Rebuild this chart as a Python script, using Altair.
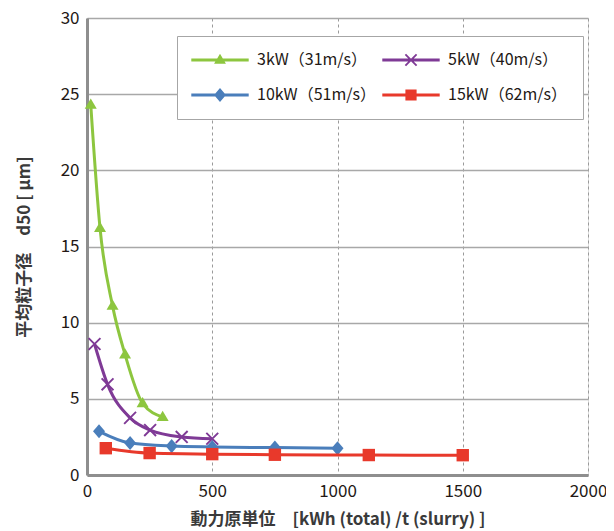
import altair as alt
import pandas as pd

# ---- data ----
series_names = ["3kW", "5kW", "10kW", "15kW"]
legend_labels = ["\u20073kW（31m/s）", "\u20075kW（40m/s）", "10kW（51m/s）", "15kW（62m/s）"]
series_colors = ["#8DC63F", "#7F3A96", "#4A7EBB", "#E8392B"]

x_3kw = [15, 52, 102, 152, 222, 302]
y_3kw = [24.3, 16.2, 11.1, 7.9, 4.7, 3.8]
x_5kw = [30, 82, 172, 252, 378, 500]
y_5kw = [8.6, 5.95, 3.75, 2.95, 2.5, 2.38]
x_10kw = [48, 172, 338, 500, 750, 1000]
y_10kw = [2.87, 2.1, 1.9, 1.84, 1.8, 1.75]
x_15kw = [75, 250, 500, 750, 1125, 1500]
y_15kw = [1.76, 1.44, 1.37, 1.33, 1.31, 1.3]

xs = [x_3kw, x_5kw, x_10kw, x_15kw]
ys = [y_3kw, y_5kw, y_10kw, y_15kw]

x_ticks = [0, 500, 1000, 1500, 2000]
y_ticks = [0, 5, 10, 15, 20, 25, 30]

FONT = "Noto Sans CJK JP"
FRAME = "#8E8E8E"

# marker shapes (unit coordinates)
TRI = "M0,-0.9L0.85,0.55L-0.85,0.55Z"
XMARK = ("M-0.708,-0.892L0.892,0.708L0.708,0.892L-0.892,-0.708Z"
         "M-0.708,0.892L-0.892,0.708L0.708,-0.892L0.892,-0.708Z")
DIA = "M0,-1L0.85,0L0,1L-0.85,0Z"
SQ = "M-0.8,-0.8L0.8,-0.8L0.8,0.8L-0.8,0.8Z"
marker_paths = [TRI, XMARK, DIA, SQ]
marker_sizes = [200, 220, 200, 240]
LINE = "M-4.1,-0.21L4.1,-0.21L4.1,0.21L-4.1,0.21Z"
legend_paths = [LINE + m for m in marker_paths]

frames = []
for name, xv, yv in zip(series_names, xs, ys):
    frames.append(pd.DataFrame({"series": name, "x": xv, "y": yv}))
df = pd.concat(frames, ignore_index=True)

xscale = alt.Scale(domain=[0, 2000], nice=False)
yscale = alt.Scale(domain=[0, 30], nice=False)

xaxis = alt.Axis(values=x_ticks, format="d", title="動力原単位　[kWh (total) /t (slurry) ]",
                 grid=True, gridDash=[3, 3], gridColor="#9A9A9A", gridWidth=1,
                 ticks=False, domain=True, domainColor=FRAME, domainWidth=3,
                 labelFlush=False, labelPadding=8,
                 labelFontSize=17, labelColor="#231815", labelFont=FONT,
                 titleFont=FONT, titleFontSize=17, titleFontWeight="bold",
                 titleColor="#3a3a3a", titlePadding=12)
yaxis = alt.Axis(values=y_ticks, title="平均粒子径　d50 [ μm]",
                 grid=True, gridColor="#A8A8A8", gridWidth=1.5,
                 ticks=False, domain=True, domainColor=FRAME, domainWidth=3,
                 labelPadding=8,
                 labelFontSize=17, labelColor="#231815", labelFont=FONT,
                 titleFont=FONT, titleFontSize=17, titleFontWeight="bold",
                 titleColor="#3a3a3a", titlePadding=27)

X = alt.X("x:Q", scale=xscale, axis=xaxis)
Y = alt.Y("y:Q", scale=yscale, axis=yaxis)

layers = []
for name, col, path, sz in zip(series_names, series_colors, marker_paths, marker_sizes):
    sub = alt.Chart(df).transform_filter(alt.datum.series == name)
    line = sub.mark_line(interpolate="monotone", strokeWidth=3, color=col).encode(x=X, y=Y)
    pts = sub.mark_point(filled=True, opacity=1, shape=path, size=sz, color=col,
                         strokeWidth=0).encode(x=X, y=Y)
    layers += [line, pts]

legend_df = pd.DataFrame({"label": legend_labels})
legend_layer = alt.Chart(legend_df).transform_filter("false").mark_point(
    filled=True, opacity=1, size=196, strokeWidth=0
).encode(
    color=alt.Color("label:N", sort=None,
                    scale=alt.Scale(domain=legend_labels, range=series_colors),
                    legend=alt.Legend(
                        title=None, orient="none", legendX=90, legendY=18,
                        columns=2, direction="horizontal",
                        fillColor="white", strokeColor="#A6A6A6", padding=16,
                        symbolOffset=19, labelOffset=29, symbolSize=196,
                        symbolStrokeWidth=0, columnPadding=6, rowPadding=19,
                        labelFont=FONT, labelFontSize=16, labelColor="#231815",
                        labelLimit=300)),
    shape=alt.Shape("label:N", sort=None,
                    scale=alt.Scale(domain=legend_labels, range=legend_paths)),
)

chart = alt.layer(*layers, legend_layer).properties(
    width=501, height=457,
    autosize=alt.AutoSizeParams(type="none"),
    padding={"left": 79, "top": 10, "right": 18, "bottom": 56},
).configure_view(
    stroke=FRAME, strokeWidth=3
).configure(background="white")

chart.save("out.html", embed_options={"renderer": "svg", "actions": False})
